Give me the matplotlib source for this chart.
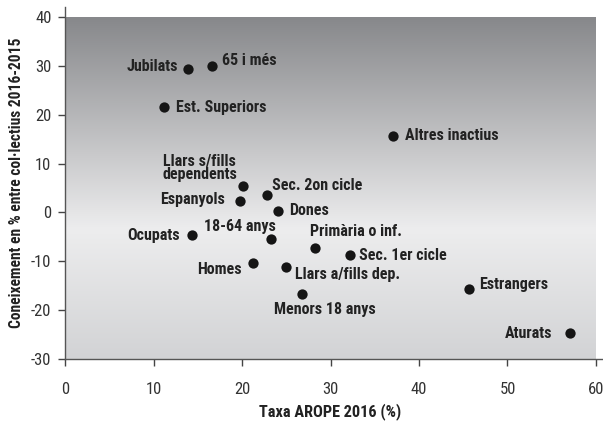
import numpy as np
import matplotlib
matplotlib.use("Agg")
import matplotlib.pyplot as plt
from matplotlib import font_manager
from matplotlib.colors import LinearSegmentedColormap

names = {f.name for f in font_manager.fontManager.ttflist}
STRETCH = "normal"
FONT = None
for cand in ["Liberation Sans Narrow", "Roboto Condensed", "Open Sans Condensed",
             "Arial Narrow", "Noto Sans Condensed"]:
    if cand in names:
        FONT = cand
        break
if FONT is None:
    FONT = "DejaVu Sans"
    STRETCH = "condensed"
plt.rcParams["font.family"] = [FONT, "DejaVu Sans"]
plt.rcParams["font.stretch"] = STRETCH
plt.rcParams["axes.unicode_minus"] = False

# ---- data ----
labels = ["Jubilats", "65 i més", "Est. Superiors", "Altres inactius",
          "Llars s/fills\ndependents", "Sec. 2on cicle", "Espanyols", "Dones",
          "Ocupats", "18-64 anys", "Primària o inf.", "Sec. 1er cicle",
          "Homes", "Llars a/fills dep.", "Menors 18 anys", "Estrangers", "Aturats"]
arope = [13.9, 16.6, 11.2, 37.1, 20.1, 22.8, 19.8, 24.1,
         14.3, 23.3, 28.2, 32.2, 21.2, 25.0, 26.8, 45.6, 57.1]
coneix = [29.3, 30.0, 21.5, 15.6, 5.4, 3.5, 2.4, 0.3,
          -4.7, -5.4, -7.3, -8.8, -10.3, -11.2, -16.7, -15.7, -24.8]
xticks = [0, 10, 20, 30, 40, 50, 60]
yticks = [-30, -20, -10, 0, 10, 20, 30, 40]

# label placement (offset in pixels, horizontal alignment)
place = {
    "Jubilats": (-10, 3, "right"),
    "65 i més": (10, 6, "left"),
    "Est. Superiors": (12, 0, "left"),
    "Altres inactius": (12, 1, "left"),
    "Llars s/fills\ndependents": (-6, 18, "right"),
    "Sec. 2on cicle": (5, 10, "left"),
    "Espanyols": (-15, 1, "right"),
    "Dones": (11, 0, "left"),
    "Ocupats": (-12, 0, "right"),
    "18-64 anys": (5, 12, "right"),
    "Primària o inf.": (-5, 16, "left"),
    "Sec. 1er cicle": (9, 0, "left"),
    "Homes": (-11, -7, "right"),
    "Llars a/fills dep.": (9, -8, "left"),
    "Menors 18 anys": (-28, -16, "left"),
    "Estrangers": (11, 4, "left"),
    "Aturats": (-18, 0, "right"),
}

fig = plt.figure(figsize=(6.03, 4.25), dpi=100)
L = 65.3 / 603
B = (425 - 358.7) / 425
T = 7 / 425
ax = fig.add_axes([L, B, 1 - L, 1 - B - T])
ax.set_xlim(0, 60.8)
ax.set_ylim(-30, 42.1)

cmap = LinearSegmentedColormap.from_list(
    "bg", [(0.0, "#d2d3d5"), (0.38, "#ededee"), (1.0, "#87888b")])
grad = np.linspace(0, 1, 256).reshape(-1, 1)
ax.imshow(grad, extent=[0, 60, -30, 40], origin="lower", cmap=cmap,
          aspect="auto", zorder=0, interpolation="bicubic")

ax.scatter(arope, coneix, s=55, color="#151515", zorder=3, linewidths=0)
for lab, x, y in zip(labels, arope, coneix):
    dx, dy, ha = place[lab]
    ax.annotate(lab, (x, y), xytext=(dx, dy), textcoords="offset pixels",
                ha=ha, va="center", fontsize=11.5, fontweight="bold",
                fontstretch=STRETCH,
                color="#222222", multialignment="center", linespacing=0.9,
                zorder=4)

for s in ["top", "right"]:
    ax.spines[s].set_visible(False)
for s in ["left", "bottom"]:
    ax.spines[s].set_color("#555555")
    ax.spines[s].set_linewidth(1.0)

ax.set_xticks(xticks)
ax.set_yticks(yticks)
ax.tick_params(axis="both", direction="out", length=5, width=1,
               color="#444444", labelcolor="#333333", labelsize=12)
ax.tick_params(axis="x", pad=12)
ax.tick_params(axis="y", pad=5)
for t in ax.get_xticklabels() + ax.get_yticklabels():
    t.set_fontstretch(STRETCH)

ax.set_xlabel("Taxa AROPE 2016 (%)", fontsize=11.7, fontweight="bold",
              color="#222222", fontstretch=STRETCH, va="center")
ax.xaxis.set_label_coords((330 - 65.3) / 537.7, (358.7 - 412) / 351.7)
ax.set_ylabel("Coneixement en % entre col·lectius 2016-2015", fontsize=11.2,
              fontweight="bold", color="#222222", fontstretch=STRETCH,
              va="center")
ax.yaxis.set_label_coords((17 - 65.3) / 537.7, 0.5)

fig.savefig("out.png", dpi=100)
